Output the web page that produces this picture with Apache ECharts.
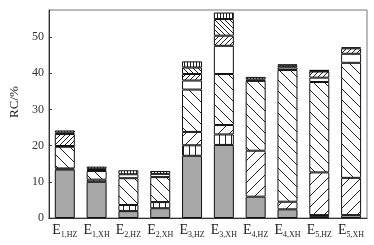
<!DOCTYPE html>
<html>
<head>
<meta charset="utf-8">
<script src="https://cdn.jsdelivr.net/npm/echarts@6/dist/echarts.min.js"></script>
<style>
html, body { margin: 0; padding: 0; background: #fff; }
#chart { width: 374px; height: 245px; }
</style>
</head>
<body>
<div id="chart"></div>
<script>
// categories (E + subscript)
var categories = ['E1,HZ', 'E1,XH', 'E2,HZ', 'E2,XH', 'E3,HZ', 'E3,XH', 'E4,HZ', 'E4,XH', 'E5,HZ', 'E5,XH'];
var yTicks = [0, 10, 20, 30, 40, 50];
// stacked segments, bottom to top
var grayPart  = [13.4, 10.0, 1.9, 2.7, 17.2, 20.2, 5.9, 2.4, 0.5, 0.8];
var vertPart  = [0.3, 0.6, 1.7, 1.7, 2.9, 2.9, 0, 0, 0.3, 0];
var fwdPart   = [0, 0, 0, 0, 3.7, 2.6, 12.7, 2.1, 11.8, 10.3];
var backPart  = [6.0, 2.4, 7.4, 6.9, 11.7, 14.1, 19.3, 36.4, 25.0, 31.8];
var whitePart = [0.2, 0.3, 1.1, 0.9, 2.5, 7.8, 0.4, 0.7, 1.2, 2.5];
var fwdDensePart  = [3.3, 0, 0, 0, 1.8, 2.8, 0, 0.5, 1.7, 1.5];
var backDensePart = [0.4, 0.3, 0, 0, 1.8, 4.6, 0, 0, 0.2, 0];
var vertDensePart = [0.6, 0.6, 1.1, 0.8, 1.7, 1.8, 0.7, 0.4, 0.2, 0.3];

var myChart;
chartInit();

function chartInit() {
	myChart = echarts.init(document.getElementById('chart'));
	chartSetting();
}

// hatch pattern tiles
function hatch(type, s) {
	var c = document.createElement('canvas');
	c.width = s;
	c.height = s;
	var ctx = c.getContext('2d');
	ctx.fillStyle = '#fff';
	ctx.fillRect(0, 0, s, s);
	ctx.strokeStyle = '#222';
	ctx.lineWidth = 1;
	ctx.beginPath();
	if (type == 'back') {
		for (var k = -1; k <= 1; k++) {
			ctx.moveTo(0, k * s);
			ctx.lineTo(s, s + k * s);
		}
	} else if (type == 'fwd') {
		for (var k = -1; k <= 1; k++) {
			ctx.moveTo(0, s + k * s);
			ctx.lineTo(s, k * s);
		}
	} else if (type == 'vert') {
		ctx.moveTo(Math.floor(s / 2) + 0.5, 0);
		ctx.lineTo(Math.floor(s / 2) + 0.5, s);
	}
	ctx.stroke();
	return { image: c, repeat: 'repeat' };
}

function nz(arr) {
	return arr.map(function(v) { return v > 0 ? v : null; });
}

function barSeries(name, data, color) {
	return {
		name: name,
		type: 'bar',
		stack: 'rc',
		barWidth: 20,
		data: nz(data),
		itemStyle: {
			color: color,
			borderColor: '#111',
			borderWidth: 1
		},
		emphasis: { disabled: true }
	};
}

function chartSetting() {
	var option = {
		animation: false,
		grid: {
			left: 42,
			right: 7,
			top: 10,
			bottom: 27,
			show: true,
			borderColor: '#777',
			borderWidth: 1
		},
		xAxis: {
			type: 'category',
			data: categories,
			axisLine: { lineStyle: { color: '#333', width: 1 } },
			axisTick: { inside: true, length: 3, lineStyle: { color: '#333' } },
			axisLabel: {
				interval: 0,
				hideOverlap: false,
				margin: 4,
				formatter: function(v) {
					return '{a|' + v.charAt(0) + '}{b|' + v.substring(1) + '}';
				},
				rich: {
					a: { fontFamily: 'Liberation Serif', fontSize: 14, color: '#222' },
					b: { fontFamily: 'Liberation Serif', fontSize: 8, color: '#222', padding: [9, 0, 0, 0] }
				}
			}
		},
		yAxis: {
			type: 'value',
			min: 0,
			max: 57.5,
			interval: 10,
			name: 'RC/%',
			nameLocation: 'middle',
			nameGap: 22,
			nameTextStyle: { fontFamily: 'Liberation Serif', fontSize: 13, color: '#222', padding: [0, 0, 0, 24] },
			axisLine: { show: true, lineStyle: { color: '#333', width: 1 } },
			axisTick: { show: true, inside: true, length: 3, lineStyle: { color: '#333' } },
			splitLine: { show: false },
			axisLabel: {
				showMaxLabel: false,
				margin: 5,
				fontFamily: 'Liberation Serif',
				fontSize: 12,
				color: '#333',
				formatter: function(v) { return yTicks.indexOf(v) >= 0 ? String(v) : ''; }
			}
		},
		series: [
			barSeries('gray', grayPart, '#a8a8a8'),
			barSeries('vert', vertPart, hatch('vert', 6)),
			barSeries('fwd', fwdPart, hatch('fwd', 11)),
			barSeries('back', backPart, hatch('back', 11)),
			barSeries('white', whitePart, '#fff'),
			barSeries('fwdDense', fwdDensePart, hatch('fwd', 5)),
			barSeries('backDense', backDensePart, hatch('back', 5)),
			barSeries('vertDense', vertDensePart, hatch('vert', 3))
		]
	};
	myChart.setOption(option);
}
</script>
</body>
</html>
